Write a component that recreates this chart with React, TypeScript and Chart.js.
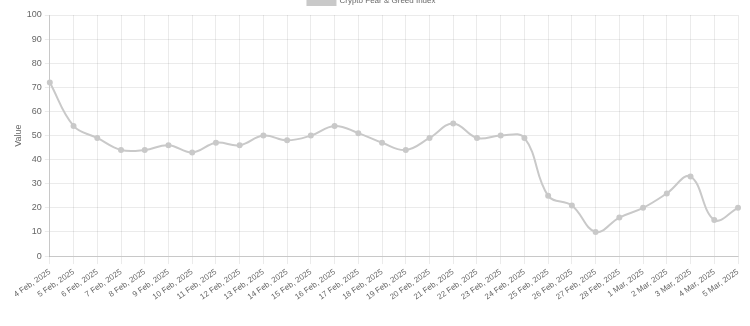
import React, { useEffect, useRef } from "react";
import { Chart, registerables } from "chart.js";

Chart.register(...registerables);

const labels = [
  "4 Feb, 2025", "5 Feb, 2025", "6 Feb, 2025", "7 Feb, 2025", "8 Feb, 2025", "9 Feb, 2025",
  "10 Feb, 2025", "11 Feb, 2025", "12 Feb, 2025", "13 Feb, 2025", "14 Feb, 2025", "15 Feb, 2025",
  "16 Feb, 2025", "17 Feb, 2025", "18 Feb, 2025", "19 Feb, 2025", "20 Feb, 2025", "21 Feb, 2025",
  "22 Feb, 2025", "23 Feb, 2025", "24 Feb, 2025", "25 Feb, 2025", "26 Feb, 2025", "27 Feb, 2025",
  "28 Feb, 2025", "1 Mar, 2025", "2 Mar, 2025", "3 Mar, 2025", "4 Mar, 2025", "5 Mar, 2025",
];

const values = [
  72, 54, 49, 44, 44, 46, 43, 47, 46, 50, 48, 50, 54, 51, 47, 44, 49, 55, 49, 50, 49,
  25, 21, 10, 16, 20, 26, 33, 15, 20,
];

const seriesName = "Crypto Fear & Greed Index";
const yTitle = "Value";

const FONT = "Liberation Sans, Arial, Helvetica, sans-serif";

export default function App() {
  const ref = useRef<HTMLCanvasElement>(null);
  useEffect(() => {
    document.body.style.margin = "0";
    document.body.style.overflow = "hidden";
    const chart = new Chart(ref.current!, {
      type: "line",
      data: {
        labels,
        datasets: [
          {
            label: seriesName,
            data: values,
            borderColor: "rgba(201,201,201,1)",
            backgroundColor: "rgba(201,201,201,1)",
            borderWidth: 2,
            pointRadius: 2,
            tension: 0.4,
            fill: false,
          },
        ],
      },
      options: {
        animation: false,
        responsive: false,
        maintainAspectRatio: false,
        layout: { padding: { left: 5, right: 12, top: 0, bottom: 25 } },
        plugins: {
          legend: {
            labels: { font: { family: FONT, size: 8 }, padding: 8, color: "#666", boxWidth: 28, boxHeight: 8 },
          },
          tooltip: { enabled: false },
        },
        scales: {
          x: {
            grid: { color: "rgba(0,0,0,0.08)" },
            border: { color: "rgba(0,0,0,0.15)" },
            ticks: {
              font: { family: FONT, size: 8 },
              color: "#666",
              maxRotation: 35,
              minRotation: 35,
              autoSkip: false,
            },
          },
          y: {
            min: 0,
            max: 100,
            grid: { color: "rgba(0,0,0,0.08)", tickLength: 5 },
            border: { color: "rgba(0,0,0,0.15)" },
            ticks: { stepSize: 10, padding: 3, font: { family: FONT, size: 9 }, color: "#666" },
            title: {
              display: true,
              text: yTitle,
              padding: { top: 8, bottom: 0 },
              font: { family: FONT, size: 9 },
              color: "#666",
            },
          },
        },
      },
    });
    return () => chart.destroy();
  }, []);
  return (
    <div style={{ width: 750, height: 326, overflow: "hidden" }}>
      <canvas ref={ref} width={750} height={341} style={{ display: "block", marginTop: -11 }} />
    </div>
  );
}
